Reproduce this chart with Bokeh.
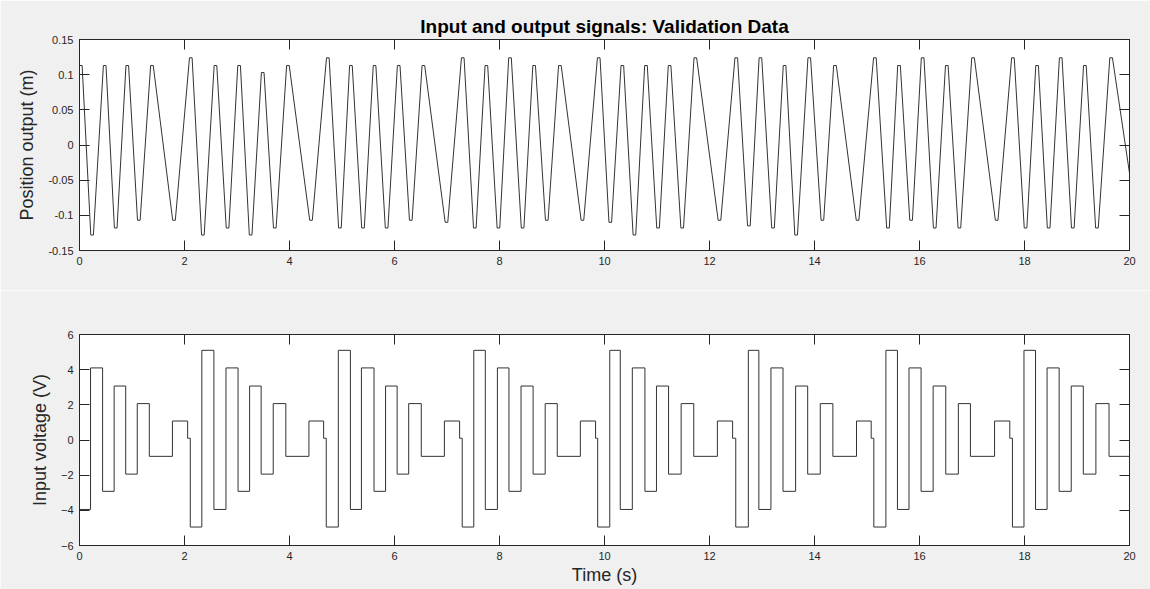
from bokeh.plotting import figure
from bokeh.models import LinearAxis, FixedTicker, Range1d
from bokeh.layouts import column
from bokeh.embed import file_html
from bokeh.resources import INLINE

# ---- data ----
# Position output: times (s) and values (m) of successive extrema
pos_t = [0.00, 0.24, 0.48, 0.69, 0.91, 1.13, 1.38, 1.80, 2.12, 2.35, 2.59, 2.82, 3.04,
         3.26, 3.49, 3.72, 3.97, 4.41, 4.73, 4.96, 5.17, 5.40, 5.62, 5.85, 6.08, 6.31,
         6.55, 6.99, 7.30, 7.53, 7.75, 7.98, 8.20, 8.44, 8.66, 8.90, 9.15, 9.58, 9.89,
         10.11, 10.34, 10.57, 10.79, 11.02, 11.24, 11.48, 11.73, 12.19, 12.51, 12.75,
         12.97, 13.21, 13.43, 13.65, 13.90, 14.15, 14.39, 14.82, 15.15, 15.40, 15.61,
         15.84, 16.06, 16.29, 16.52, 16.76, 17.02, 17.47, 17.78, 18.02, 18.24, 18.46,
         18.69, 18.92, 19.15, 19.38, 19.65, 20.00]
pos_v = [0.113, -0.128, 0.113, -0.118, 0.113, -0.107, 0.113, -0.107, 0.124, -0.128,
         0.113, -0.118, 0.113, -0.128, 0.103, -0.118, 0.113, -0.107, 0.124, -0.118, 0.113,
         -0.118, 0.113, -0.118, 0.113, -0.107, 0.113, -0.110, 0.124, -0.118, 0.113, -0.118,
         0.124, -0.118, 0.113, -0.107, 0.113, -0.107, 0.124, -0.110, 0.113, -0.128, 0.113,
         -0.118, 0.113, -0.118, 0.124, -0.107, 0.124, -0.115, 0.124, -0.118, 0.113, -0.128,
         0.124, -0.107, 0.113, -0.107, 0.124, -0.118, 0.113, -0.107, 0.124, -0.118, 0.113,
         -0.118, 0.124, -0.107, 0.124, -0.118, 0.113, -0.118, 0.124, -0.118, 0.113, -0.118,
         0.124, -0.040]
# width (s) of the flat top/bottom seen at each extremum
pos_flat = 0.05

# Input voltage: step start times (s) and levels (V)
in_t = [0.00, 0.21, 0.44, 0.66, 0.88, 1.10, 1.33, 1.77, 2.06, 2.11,
        2.33, 2.56, 2.79, 3.02, 3.24, 3.46, 3.69, 3.93, 4.37, 4.65, 4.70,
        4.93, 5.16, 5.37, 5.61, 5.83, 6.05, 6.27, 6.51, 6.95, 7.24, 7.29,
        7.51, 7.73, 7.96, 8.18, 8.41, 8.64, 8.87, 9.10, 9.54, 9.83, 9.87,
        10.10, 10.30, 10.53, 10.77, 10.99, 11.22, 11.46, 11.70, 12.15, 12.44, 12.50,
        12.74, 12.94, 13.17, 13.40, 13.64, 13.87, 14.11, 14.35, 14.80, 15.08, 15.13,
        15.36, 15.58, 15.80, 16.03, 16.26, 16.50, 16.74, 16.97, 17.43, 17.72, 17.77,
        17.99, 18.21, 18.43, 18.66, 18.89, 19.12, 19.36, 19.61, 20.00]
in_v = [-3.95, 4.1, -2.92, 3.07, -1.94, 2.07, -0.93, 1.08, 0.1, -4.95,
        5.1, -3.95, 4.1, -2.92, 3.07, -1.94, 2.07, -0.93, 1.08, 0.1, -4.95,
        5.1, -3.95, 4.1, -2.92, 3.07, -1.94, 2.07, -0.93, 1.08, 0.1, -4.95,
        5.1, -3.95, 4.1, -2.92, 3.07, -1.94, 2.07, -0.93, 1.08, 0.1, -4.95,
        5.1, -3.95, 4.1, -2.92, 3.07, -1.94, 2.07, -0.93, 1.08, 0.1, -4.95,
        5.1, -3.95, 4.1, -2.92, 3.07, -1.94, 2.07, -0.93, 1.08, 0.1, -4.95,
        5.1, -3.95, 4.1, -2.92, 3.07, -1.94, 2.07, -0.93, 1.08, 0.1, -4.95,
        5.1, -3.95, 4.1, -2.92, 3.07, -1.94, 2.07, -0.93, -0.93]

x_ticks = [0, 2, 4, 6, 8, 10, 12, 14, 16, 18, 20]
pos_ticks = [-0.15, -0.1, -0.05, 0, 0.05, 0.1, 0.15]
pos_tick_labels = ["-0.15", "-0.1", "-0.05", "0", "0.05", "0.1", "0.15"]
in_ticks = [-6, -4, -2, 0, 2, 4, 6]

title_text = "Input and output signals: Validation Data"
pos_label = "Position output (m)"
in_label = "Input voltage (V)"
x_label = "Time (s)"

# ---- styling ----
BG = "#F0F0F0"
AX = "#262626"
FONT = "Liberation Sans"
LINE = "#333333"


def style_axis(ax, ticks, labels=True, overrides=None):
    ax.ticker = FixedTicker(ticks=ticks)
    ax.major_tick_in = 10
    ax.major_tick_out = 0
    ax.minor_tick_line_color = None
    ax.axis_line_color = AX
    ax.major_tick_line_color = AX
    ax.major_label_text_font = FONT
    ax.axis_label_text_font = FONT
    ax.axis_label_text_font_style = "normal"
    ax.axis_label_text_color = AX
    ax.axis_label_text_font_size = "18px"
    if labels:
        ax.major_label_text_color = AX
        ax.major_label_text_font_size = "11px"
        ax.major_label_standoff = 6
    else:
        ax.major_label_text_color = None
        ax.major_label_text_font_size = "1px"
        ax.major_label_standoff = 0
    if overrides:
        ax.major_label_overrides = overrides


def make_fig(height, top, bottom, yr):
    p = figure(width=1150, height=height, x_range=Range1d(0, 20), y_range=Range1d(*yr),
               output_backend="svg", toolbar_location=None,
               min_border_left=79, min_border_right=21,
               min_border_top=top, min_border_bottom=bottom,
               background_fill_color="white", border_fill_color=BG,
               outline_line_color=AX)
    p.xgrid.visible = False
    p.ygrid.visible = False
    return p


# expand each extremum into its short flat top
line_t, line_v = [], []
for i, (t, v) in enumerate(zip(pos_t, pos_v)):
    if i == 0:
        line_t += [t, t + pos_flat]
        line_v += [v, v]
    elif i == len(pos_t) - 1:
        line_t.append(t)
        line_v.append(v)
    else:
        line_t += [t - pos_flat / 2, t + pos_flat / 2]
        line_v += [v, v]

# top: position output
p1 = make_fig(290, 39, 40, (-0.15, 0.15))
p1.line(line_t, line_v, line_color=LINE, line_width=1)
style_axis(p1.xaxis[0], x_ticks)
style_axis(p1.yaxis[0], pos_ticks,
           overrides={t: s for t, s in zip(pos_ticks, pos_tick_labels)})
p1.yaxis[0].axis_label = pos_label
p1.yaxis[0].axis_label_standoff = 8
ax_top = LinearAxis()
style_axis(ax_top, x_ticks, labels=False)
p1.add_layout(ax_top, "above")
ax_right = LinearAxis()
style_axis(ax_right, pos_ticks, labels=False)
p1.add_layout(ax_right, "right")
p1.title.text = title_text
p1.title.align = "center"
p1.title.text_font = FONT
p1.title.text_font_style = "bold"
p1.title.text_font_size = "19px"
p1.title.text_color = "black"
p1.title.standoff = 6

# bottom: input voltage
p2 = make_fig(299, 44, 44, (-6, 6))
p2.step(in_t, in_v, mode="after", line_color=LINE, line_width=1)
style_axis(p2.xaxis[0], x_ticks)
p2.xaxis[0].axis_label = x_label
p2.xaxis[0].axis_label_standoff = 2
style_axis(p2.yaxis[0], in_ticks)
p2.yaxis[0].axis_label = in_label
p2.yaxis[0].axis_label_standoff = 8
ax_top2 = LinearAxis()
style_axis(ax_top2, x_ticks, labels=False)
p2.add_layout(ax_top2, "above")
ax_right2 = LinearAxis()
style_axis(ax_right2, in_ticks, labels=False)
p2.add_layout(ax_right2, "right")

layout = column(p1, p2, spacing=0)
open("out.html", "w").write(file_html(layout, INLINE))
